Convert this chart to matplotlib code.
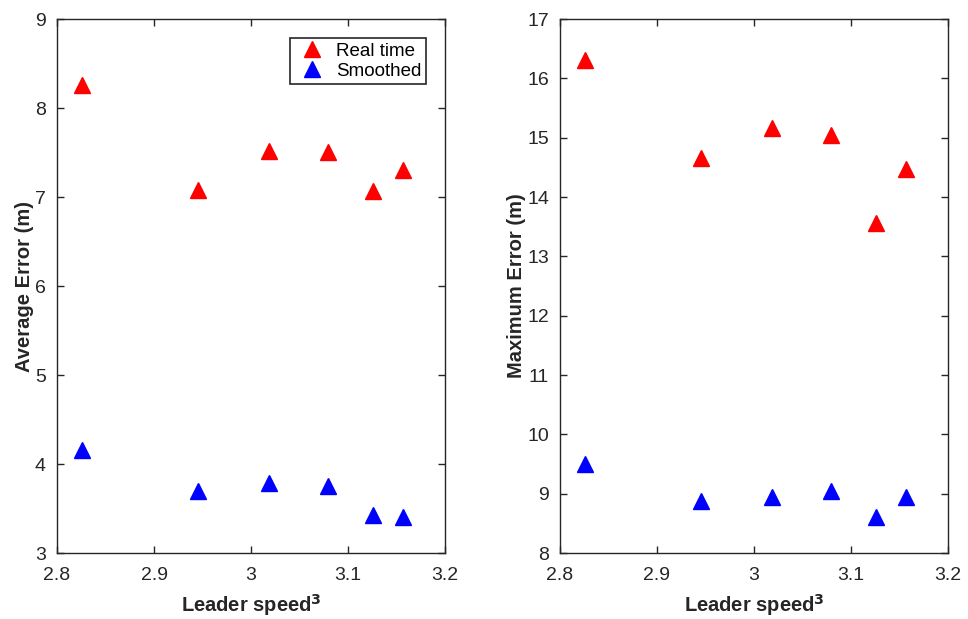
import numpy as np
import matplotlib.pyplot as plt

plt.rcParams['font.family'] = ['Liberation Sans', 'DejaVu Sans']

# datos
velocidad = [2.826, 2.945, 3.019, 3.079, 3.126, 3.157]
prom_real = [8.26, 7.08, 7.52, 7.51, 7.07, 7.30]
prom_suav = [4.16, 3.70, 3.79, 3.75, 3.43, 3.40]
max_real = [16.31, 14.66, 15.16, 15.05, 13.56, 14.48]
max_suav = [9.50, 8.87, 8.95, 9.05, 8.60, 8.94]

color_ejes = '#262626'

def estilo(ax, ylim, yticks, ylabel):
    ax.set_xlim(2.8, 3.2)
    ax.set_xticks([2.8, 2.9, 3.0, 3.1, 3.2])
    ax.set_xticklabels(['2.8', '2.9', '3', '3.1', '3.2'])
    ax.set_ylim(ylim)
    ax.set_yticks(yticks)
    ax.tick_params(direction='in', top=True, right=True, labelsize=14,
                   colors=color_ejes, length=5, width=1, pad=8)
    ax.tick_params(axis='x', pad=10)
    for s in ax.spines.values():
        s.set_color(color_ejes)
        s.set_linewidth(1)
    ax.set_xlabel('Leader speed$^{\\mathbf{3}}$', fontsize=14.5, fontweight='bold',
                  color=color_ejes, labelpad=6)
    ax.set_ylabel(ylabel, fontsize=14.5, fontweight='bold', color=color_ejes,
                  labelpad=1)

fig = plt.figure(figsize=(9.68, 6.19), dpi=100)
ax1 = fig.add_axes([0.0589, 0.1066, 0.4008, 0.8627])
ax2 = fig.add_axes([0.5785, 0.1066, 0.4008, 0.8627])

ax1.plot(velocidad, prom_real, '^', color='red', ms=11, mec='red', label='Real time')
ax1.plot(velocidad, prom_suav, '^', color='blue', ms=11, mec='blue', label='Smoothed')
estilo(ax1, (3, 9), range(3, 10), 'Average Error (m)')
leg = ax1.legend(loc='upper right', fontsize=13.5, frameon=True, fancybox=False,
                 handletextpad=0.4, borderaxespad=1.0, borderpad=0.25,
                 labelspacing=0.15, handlelength=1.8)
leg.get_frame().set_edgecolor(color_ejes)
leg.get_frame().set_linewidth(1.2)
leg.get_frame().set_alpha(1)

ax2.plot(velocidad, max_real, '^', color='red', ms=11, mec='red')
ax2.plot(velocidad, max_suav, '^', color='blue', ms=11, mec='blue')
estilo(ax2, (8, 17), range(8, 18), 'Maximum Error (m)')

fig.savefig('out.png', dpi=100)
